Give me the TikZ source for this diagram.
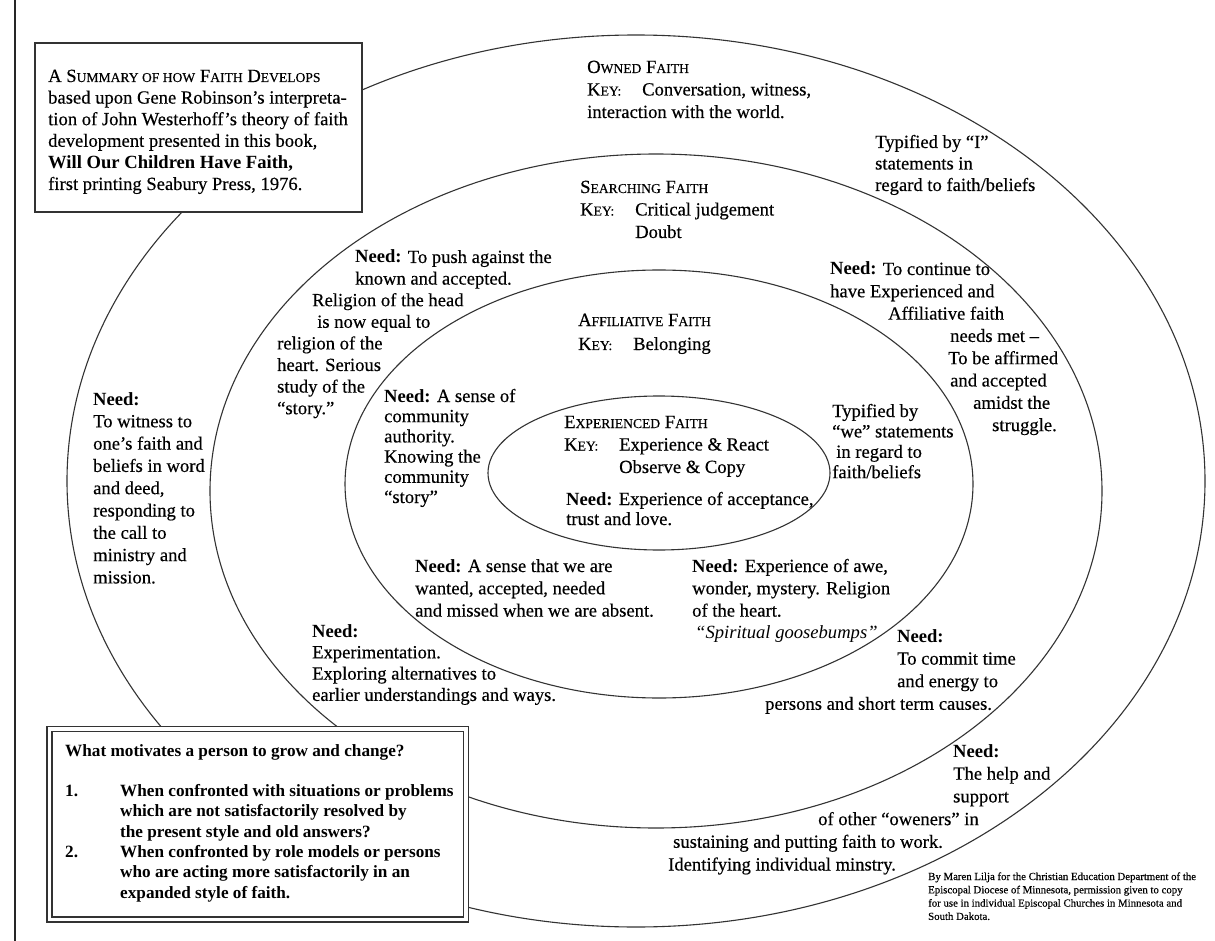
\documentclass[tikz,border=0pt]{standalone}
\usepackage{fontspec}
\setmainfont{Liberation Serif}[UprightFeatures={FakeBold=0.35}]
\usetikzlibrary{shapes.geometric}
\newcommand\tlines[1]{\begin{tabular}[t]{@{}l@{}}#1\end{tabular}}
\newcommand\need{\textbf{Need:}}
\newcommand\fsc[1]{{\fontsize{13.6}{13.6}\selectfont #1}}
\newcommand\keyl{\makebox[55pt][l]{K\fsc{EY:}}}
\tikzset{
  ring/.style={ellipse, draw=black!80, line width=1.1pt, inner sep=0pt},
  txt/.style={anchor=base west, inner sep=0pt, font=\fontsize{18.6}{#1}\selectfont},
  txt/.default=21.6,
  frame/.style={draw=black!80, fill=white, line width=1.4pt, inner sep=0pt},
  dframe/.style={draw=black!80, fill=white, double=white, double distance=3.9pt, line width=1.1pt, inner sep=0pt},
}
\begin{document}
\begin{tikzpicture}[x=1pt,y=-1pt]
\useasboundingbox (0,0) rectangle (1215,941);
\fill[white] (0,0) rectangle (1215,941);
\draw[line width=1.8pt, black!85] (15,0) -- (15,941);
% rings
\node[ring, minimum width=1138pt, minimum height=892pt] (owned) at (636,481) {};
\node[ring, minimum width=892pt, minimum height=674pt] (searching) at (656,491) {};
\node[ring, minimum width=628pt, minimum height=428pt] (affiliative) at (659,484) {};
\node[ring, minimum width=342pt, minimum height=154pt] (experienced) at (659,473) {};
% boxes
\node[frame, minimum width=327pt, minimum height=169pt] (summarybox) at (198.5,127.5) {};
\node[dframe, minimum width=416.5pt, minimum height=190.5pt] (motivebox) at (257.75,824.25) {};
% texts
\node[txt=21.6] (summary) at (48,82) {\tlines{A S\fsc{UMMARY OF HOW} F\fsc{AITH} D\fsc{EVELOPS}\\ based upon Gene Robinson’s interpreta-\\ tion of John Westerhoff’s theory of faith\\ development presented in this book,\\ \textbf{Will Our Children Have Faith,}\\ first printing Seabury Press, 1976.}};
\node[txt=22.5] (ownedtitle) at (587,73) {\tlines{O\fsc{WNED} F\fsc{AITH}\\ \keyl Conversation, witness,\\ interaction with the world.}};
\node[txt=21.5] (typI) at (875,148) {\tlines{Typified by “I”\\ statements in\\ regard to faith/beliefs}};
\node[txt=22.5] (searchtitle) at (580,193) {\tlines{S\fsc{EARCHING} F\fsc{AITH}\\ \keyl Critical judgement\\ \hspace*{55pt}Doubt}};
\node[txt=21.6] (pushneed) at (277,263) {\tlines{\hspace*{78pt}\need{} To push against the\\ \hspace*{78pt}known and accepted.\\ \hspace*{35pt}Religion of the head\\ \hspace*{40pt}is now equal to\\ religion of the\\ heart. Serious\\ study of the\\ “story.”}};
\node[txt=22.3] (continueneed) at (830,275) {\tlines{\need{} To continue to\\ have Experienced and\\ \hspace*{58pt}Affiliative faith\\ \hspace*{120pt}needs met –\\ \hspace*{118pt}To be affirmed\\ \hspace*{120pt}and accepted\\ \hspace*{143pt}amidst the\\ \hspace*{162pt}struggle.}};
\node[txt=22.3] (witnessneed) at (93,405) {\tlines{\need\\ To witness to\\ one’s faith and\\ beliefs in word\\ and deed,\\ responding to\\ the call to\\ ministry and\\ mission.}};
\node[txt=20.2] (communityneed) at (384,402) {\tlines{\need{} A sense of\\ community\\ authority.\\ Knowing the\\ community\\ “story”}};
\node[txt=24] (affiltitle) at (578,326) {\tlines{A\fsc{FFILIATIVE} F\fsc{AITH}\\ \keyl Belonging}};
\node[txt=22.5] (expertitle) at (564,428) {\tlines{E\fsc{XPERIENCED} F\fsc{AITH}\\ \keyl Experience \& React\\ \hspace*{55pt}Observe \& Copy}};
\node[txt=20] (experneed) at (566,505) {\tlines{\need{} Experience of acceptance,\\ trust and love.}};
\node[txt=20.4] (typwe) at (832,417) {\tlines{Typified by\\ “we” statements\\ \hspace*{4pt}in regard to\\ faith/beliefs}};
\node[txt=22.3] (wantedneed) at (415,572) {\tlines{\need{} A sense that we are\\ wanted, accepted, needed\\ and missed when we are absent.}};
\node[txt=22.3] (aweneed) at (692,572) {\tlines{\need{} Experience of awe,\\ wonder, mystery. Religion\\ of the heart.\\ \hspace*{3pt}\textit{“Spiritual goosebumps”}}};
\node[txt=21.3] (experimentneed) at (312,637) {\tlines{\need\\ Experimentation.\\ Exploring alternatives to\\ earlier understandings and ways.}};
\node[txt=22.6] (commitneed) at (765,642) {\tlines{\hspace*{132pt}\need\\ \hspace*{132pt}To commit time\\ \hspace*{132pt}and energy to\\ persons and short term causes.}};
\node[txt=22.7] (helpneed) at (668,757) {\tlines{\hspace*{285pt}\need\\ \hspace*{285pt}The help and\\ \hspace*{285pt}support\\ \hspace*{150pt}of other “oweners” in\\ \hspace*{5pt}sustaining and putting faith to work.\\ Identifying individual minstry.}};
\node[anchor=base west, inner sep=0pt, font=\fontsize{17.2}{20.3}\selectfont\bfseries] (motivetext) at (65,756) {\tlines{What motivates a person to grow and change?\\ \\ \makebox[55pt][l]{1.}When confronted with situations or problems\\ \hspace*{55pt}which are not satisfactorily resolved by\\ \hspace*{55pt}the present style and old answers?\\ \makebox[55pt][l]{2.}When confronted by role models or persons\\ \hspace*{55pt}who are acting more satisfactorily in an\\ \hspace*{55pt}expanded style of faith.}};
\node[anchor=base west, inner sep=0pt, font=\fontsize{10.8}{13.3}\selectfont] (credit) at (928,880) {\tlines{By Maren Lilja for the Christian Education Department of the\\ Episcopal Diocese of Minnesota, permission given to copy\\ for use in individual Episcopal Churches in Minnesota and\\ South Dakota.}};
\end{tikzpicture}
\end{document}
